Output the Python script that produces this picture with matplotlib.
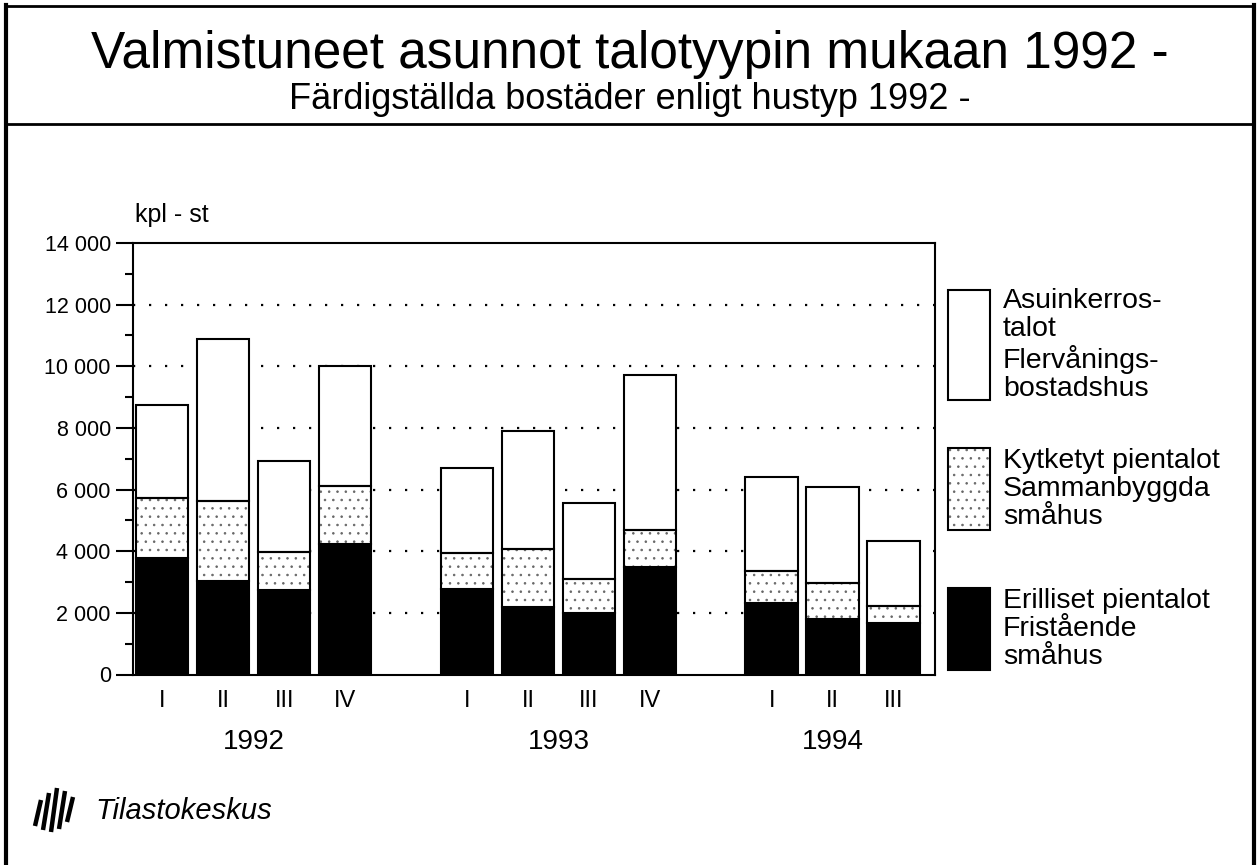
import numpy as np
import matplotlib
matplotlib.use("Agg")
import matplotlib.pyplot as plt
from matplotlib.patches import Rectangle
from matplotlib.lines import Line2D
from matplotlib.ticker import MultipleLocator, FuncFormatter

plt.rcParams['font.family'] = ['Liberation Sans', 'DejaVu Sans']
plt.rcParams['hatch.linewidth'] = 0.6

# Data (dwellings per quarter)
quarters = ["I", "II", "III", "IV", "I", "II", "III", "IV", "I", "II", "III"]
years = ["1992", "1993", "1994"]
year_groups = [[0, 1, 2, 3], [4, 5, 6, 7], [8, 9, 10]]
erilliset = np.array([3780, 3030, 2730, 4240, 2790, 2190, 2000, 3490, 2310, 1810, 1670])
kytketyt = np.array([1950, 2600, 1240, 1860, 1160, 1870, 1110, 1210, 1060, 1150, 540])
kerrostalot = np.array([3000, 5250, 2950, 3920, 2740, 3830, 2450, 5020, 3040, 3120, 2130])

legend_labels = [
    "Asuinkerros-\ntalot\nFlervånings-\nbostadshus",
    "Kytketyt pientalot\nSammanbyggda\nsmåhus",
    "Erilliset pientalot\nFristående\nsmåhus",
]

W, H = 1259, 865
fig = plt.figure(figsize=(W / 100, H / 100), dpi=100)


def fx(px):
    return px / W


def fy(py):
    return 1 - py / H


# bar slots: one empty slot between years
pos = []
for g, idx in enumerate(year_groups):
    for k in range(len(idx)):
        pos.append(g * 5 + k)
pos = np.array(pos, dtype=float)

ax_top, ax_bot = 243, 674.5
ax = fig.add_axes([fx(133), fy(ax_bot), fx(935) - fx(133), fy(ax_top) - fy(ax_bot)])
bw = 0.86
stipple = "#666666"
ax.bar(pos, erilliset, bw, color="black", edgecolor="black", lw=1.5, zorder=3)
# stipple layer: grey dots, then black outline on top
ax.bar(pos, kytketyt, bw, bottom=erilliset, facecolor="white", edgecolor=stipple,
       hatch="..", lw=0, zorder=3)
ax.bar(pos, kytketyt, bw, bottom=erilliset, facecolor="none", edgecolor="black",
       lw=1.5, zorder=4)
ax.bar(pos, kerrostalot, bw, bottom=erilliset + kytketyt, facecolor="white",
       edgecolor="black", lw=1.5, zorder=3)

ax.set_xlim(-0.48, 12.68)
ax.set_ylim(0, 14000)
ax.yaxis.set_major_locator(MultipleLocator(2000))
ax.yaxis.set_minor_locator(MultipleLocator(1000))
ax.yaxis.set_major_formatter(FuncFormatter(lambda v, p: f"{v:,.0f}".replace(",", " ")))
ax.tick_params(axis="y", which="major", length=12, width=1.5, labelsize=15.5, pad=4)
ax.tick_params(axis="y", which="minor", length=6, width=1.5)
ax.set_xticks(pos)
ax.set_xticklabels(quarters, fontsize=17)
ax.tick_params(axis="x", length=0, pad=11.5)
for s in ax.spines.values():
    s.set_linewidth(1.5)

for yv in range(2000, 14000, 2000):
    ax.axhline(yv, color="black", lw=1.6, ls=(0, (1, 6.2)), zorder=1)

ax_h = ax_bot - ax_top
for yr, idx in zip(years, year_groups):
    ax.text(pos[idx].mean(), -(749 - ax_bot) / ax_h, yr, transform=ax.get_xaxis_transform(),
            ha="center", va="baseline", fontsize=20)

ax.text(0.003, 1 + (ax_top - 222) / ax_h, "kpl - st", transform=ax.transAxes, ha="left",
        va="baseline", fontsize=18)

# legend drawn by hand to match the boxes of different heights
boxes = [(290, 400, "white", None), (448, 530, "white", ".."), (588, 670, "black", None)]
for (top, bot, fc, hatch), lab in zip(boxes, legend_labels):
    xy = (fx(948), fy(bot))
    w, h = fx(990) - fx(948), fy(top) - fy(bot)
    if hatch:
        fig.add_artist(Rectangle(xy, w, h, transform=fig.transFigure, facecolor=fc,
                                 edgecolor=stipple, hatch=hatch, lw=0))
        fc = "none"
    fig.add_artist(Rectangle(xy, w, h, transform=fig.transFigure, facecolor=fc,
                             edgecolor="black", lw=1.5))
    fig.text(fx(1003), fy((top + bot) / 2), lab, ha="left", va="center", fontsize=20.5,
             linespacing=1.12)

# titles
fig.text(0.5, fy(68), "Valmistuneet asunnot talotyypin mukaan 1992 -", ha="center",
         va="baseline", fontsize=37)
fig.text(0.5, fy(109), "Färdigställda bostäder enligt hustyp 1992 -", ha="center",
         va="baseline", fontsize=26)

# frame
fig.add_artist(Line2D([fx(6), fx(6)], [fy(5), 0], transform=fig.transFigure, color="black", lw=3))
fig.add_artist(Line2D([fx(1254), fx(1254)], [fy(5), 0], transform=fig.transFigure, color="black", lw=3))
fig.add_artist(Line2D([fx(6), fx(1254)], [fy(6), fy(6)], transform=fig.transFigure, color="black", lw=2))
fig.add_artist(Line2D([fx(6), fx(1254)], [fy(124), fy(124)], transform=fig.transFigure, color="black", lw=2))

# Tilastokeskus logo and name
for i, (top, bot) in enumerate([(800, 826), (793, 830), (788, 832), (791, 829), (797, 822)]):
    x0 = 35 + i * 8
    fig.add_artist(Line2D([fx(x0), fx(x0 + 6)], [fy(bot), fy(top)], transform=fig.transFigure,
                          color="black", lw=3.2, solid_capstyle="butt"))
fig.text(fx(95), fy(819), "Tilastokeskus", ha="left", va="baseline", fontsize=21,
         style="italic")

fig.savefig("out.png", dpi=100)
